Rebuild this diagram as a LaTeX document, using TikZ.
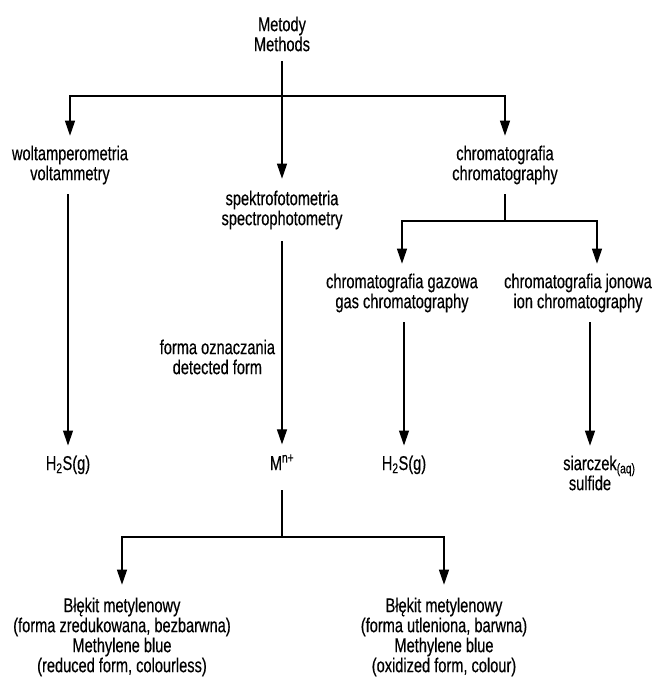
\documentclass[tikz,border=0pt]{standalone}
\usepackage{fontspec}
\setmainfont{Liberation Sans}[FakeStretch=0.73,FakeBold=0.4]
\usepackage{tikz}
\usetikzlibrary{arrows.meta}

\begin{document}
\begin{tikzpicture}[x=1pt,y=-1pt,
		txt/.style={align=center, inner sep=0pt, outer sep=10pt, font={\fontsize{20}{20}\selectfont\lineskiplimit=-10pt\relax}},
		arr/.style={-{Triangle[length=15pt,width=10pt]}},
		every path/.style={line width=1.2pt}]
		\useasboundingbox (0,0) rectangle (655,680);
		
		% Top node and first level
		\node[txt] (methods) at (282,34) {Metody\\Methods};
		\node[txt] (volt) at (70,165) {woltamperometria\\voltammetry};
		\node[txt, outer sep=12pt] (spectro) at (282,210) {spektrofotometria\\spectrophotometry};
		\node[txt] (chrom) at (505,165) {chromatografia\\chromatography};
		
		% Chromatography branches
		\node[txt] (gas) at (402,293) {chromatografia gazowa\\gas chromatography};
		\node[txt] (ion) at (578,293) {chromatografia jonowa\\ion chromatography};
		
		% Detected forms
		\node[txt, anchor=east, outer sep=0pt] (detected) at (275,357) {forma oznaczania\\detected form};
		\node[txt, anchor=base] (hsvolt) at (68,470) {H\textsubscript{2}S(g)};
		\node[txt, anchor=base] (metal) at (282,470) {M\textsuperscript{n+}};
		\node[txt, anchor=base] (hsgas) at (404,470) {H\textsubscript{2}S(g)};
		\node[txt] (sulfide) at (590,473) {siarczek\rlap{\textsubscript{(aq)}}\\sulfide};
		
		% Methylene blue forms
		\node[txt, outer sep=13pt] (reduced) at (122,637) {Błękit metylenowy\\(forma zredukowana, bezbarwna)\\Methylene blue\\(reduced form, colourless)};
		\node[txt, outer sep=13pt] (oxidized) at (444,637) {Błękit metylenowy\\(forma utleniona, barwna)\\Methylene blue\\(oxidized form, colour)};
		
		% Junctions
		\coordinate (top) at (282,96);
		\coordinate (chromsplit) at (505,221);
		\coordinate (bluesplit) at (282,537);
		
		% Connectors
		\draw[arr] (methods) -- (spectro);
		\draw[arr] (top) -| (volt);
		\draw[arr] (top) -| (chrom);
		\draw (chrom) -- (chromsplit);
		\draw[arr] (chromsplit) -| (gas);
		\draw[arr] (chromsplit) -| ([xshift=19pt]ion.north);
		\draw[arr] (volt.south -| hsvolt.north) -- (hsvolt);
		\draw[arr] (spectro) -- (metal);
		\draw[arr] (gas.south -| hsgas.north) -- (hsgas);
		\draw[arr] (ion.south -| sulfide.north) -- (sulfide);
		\draw ([yshift=-10pt]metal.south) -- (bluesplit);
		\draw[arr] (bluesplit) -| (reduced);
		\draw[arr] (bluesplit) -| (oxidized);
	\end{tikzpicture}
\end{document}
